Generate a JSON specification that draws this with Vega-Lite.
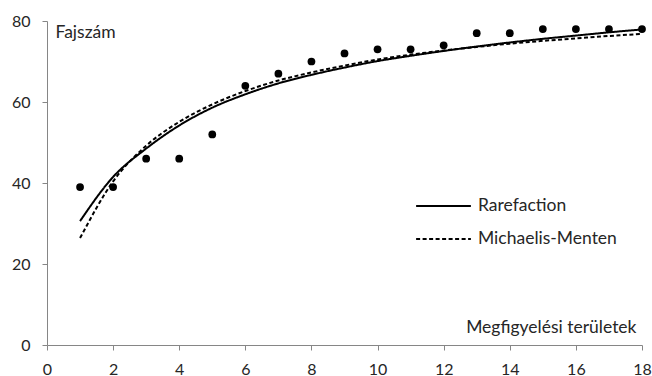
{
  "$schema": "https://vega.github.io/schema/vega-lite/v6.json",
  "autosize": {"type": "none"},
  "width": 595,
  "height": 324,
  "padding": {"left": 47, "top": 21, "right": 10, "bottom": 31},
  "background": "white",
  "config": {
    "font": "Lato",
    "view": {"stroke": null},
    "axis": {"grid": false, "domainColor": "#868686", "tickColor": "#868686", "labelColor": "#262626", "titleColor": "#262626", "labelFont": "Lato", "titleFont": "Lato", "labelFontSize": 16, "titleFontSize": 17.5, "titleFontWeight": "normal", "tickSize": 5, "labelFlush": false},
    "legend": {"labelFont": "Lato", "labelFontSize": 17.5, "labelColor": "#262626"}
  },
  "datasets": {
    "obs": [
      {"x": 1, "y": 39}, {"x": 2, "y": 39}, {"x": 3, "y": 46}, {"x": 4, "y": 46}, {"x": 5, "y": 52}, {"x": 6, "y": 64},
      {"x": 7, "y": 67}, {"x": 8, "y": 70}, {"x": 9, "y": 72}, {"x": 10, "y": 73}, {"x": 11, "y": 73}, {"x": 12, "y": 74},
      {"x": 13, "y": 77}, {"x": 14, "y": 77}, {"x": 15, "y": 78}, {"x": 16, "y": 78}, {"x": 17, "y": 78}, {"x": 18, "y": 78}
    ],
    "curves": [
      {"x": 1, "y": 30.6, "series": "Rarefaction"}, {"x": 2, "y": 41.5, "series": "Rarefaction"}, {"x": 3, "y": 48.5, "series": "Rarefaction"},
      {"x": 4, "y": 54.2, "series": "Rarefaction"}, {"x": 5, "y": 58.6, "series": "Rarefaction"}, {"x": 6, "y": 61.9, "series": "Rarefaction"},
      {"x": 7, "y": 64.6, "series": "Rarefaction"}, {"x": 8, "y": 66.7, "series": "Rarefaction"}, {"x": 9, "y": 68.5, "series": "Rarefaction"},
      {"x": 10, "y": 70.1, "series": "Rarefaction"}, {"x": 11, "y": 71.4, "series": "Rarefaction"}, {"x": 12, "y": 72.6, "series": "Rarefaction"},
      {"x": 13, "y": 73.7, "series": "Rarefaction"}, {"x": 14, "y": 74.7, "series": "Rarefaction"}, {"x": 15, "y": 75.6, "series": "Rarefaction"},
      {"x": 16, "y": 76.4, "series": "Rarefaction"}, {"x": 17, "y": 77.2, "series": "Rarefaction"}, {"x": 18, "y": 77.9, "series": "Rarefaction"},
      {"x": 1, "y": 26.4, "series": "Michaelis-Menten"}, {"x": 2, "y": 40.4, "series": "Michaelis-Menten"}, {"x": 3, "y": 49.2, "series": "Michaelis-Menten"},
      {"x": 4, "y": 55.1, "series": "Michaelis-Menten"}, {"x": 5, "y": 59.4, "series": "Michaelis-Menten"}, {"x": 6, "y": 62.7, "series": "Michaelis-Menten"},
      {"x": 7, "y": 65.3, "series": "Michaelis-Menten"}, {"x": 8, "y": 67.3, "series": "Michaelis-Menten"}, {"x": 9, "y": 69.0, "series": "Michaelis-Menten"},
      {"x": 10, "y": 70.5, "series": "Michaelis-Menten"}, {"x": 11, "y": 71.7, "series": "Michaelis-Menten"}, {"x": 12, "y": 72.7, "series": "Michaelis-Menten"},
      {"x": 13, "y": 73.6, "series": "Michaelis-Menten"}, {"x": 14, "y": 74.4, "series": "Michaelis-Menten"}, {"x": 15, "y": 75.1, "series": "Michaelis-Menten"},
      {"x": 16, "y": 75.7, "series": "Michaelis-Menten"}, {"x": 17, "y": 76.3, "series": "Michaelis-Menten"}, {"x": 18, "y": 76.8, "series": "Michaelis-Menten"}
    ]
  },
  "layer": [
    {
      "data": {"name": "curves"},
      "mark": {"type": "line", "interpolate": "monotone", "color": "black", "strokeWidth": 2},
      "encoding": {
        "x": {"field": "x", "type": "quantitative", "scale": {"domain": [0, 18], "nice": false},
              "axis": {"values": [0, 2, 4, 6, 8, 10, 12, 14, 16, 18], "title": "Megfigyelési területek", "titleAlign": "right", "titleAnchor": null, "titleX": 589, "titleY": -13, "titleBaseline": "alphabetic", "labelPadding": 11}},
        "y": {"field": "y", "type": "quantitative", "scale": {"domain": [0, 80], "nice": false},
              "axis": {"values": [0, 20, 40, 60, 80], "title": "Fajszám", "titleAngle": 0, "titleAlign": "left", "titleAnchor": null, "titleX": 8, "titleY": 16, "titleBaseline": "alphabetic", "labelPadding": 12}},
        "strokeDash": {"field": "series", "type": "nominal",
          "scale": {"domain": ["Rarefaction", "Michaelis-Menten"], "range": [[1, 0], [4, 2.5]]},
          "legend": {"title": null, "orient": "none", "legendX": 368, "legendY": 175, "symbolType": "stroke", "symbolSize": 3000, "symbolStrokeWidth": 2, "symbolStrokeColor": "black", "clipHeight": 20, "rowPadding": 13, "labelOffset": 6}}
      }
    },
    {
      "data": {"name": "obs"},
      "mark": {"type": "circle", "color": "black", "opacity": 1, "size": 60},
      "encoding": {
        "x": {"field": "x", "type": "quantitative"},
        "y": {"field": "y", "type": "quantitative"}
      }
    }
  ]
}
